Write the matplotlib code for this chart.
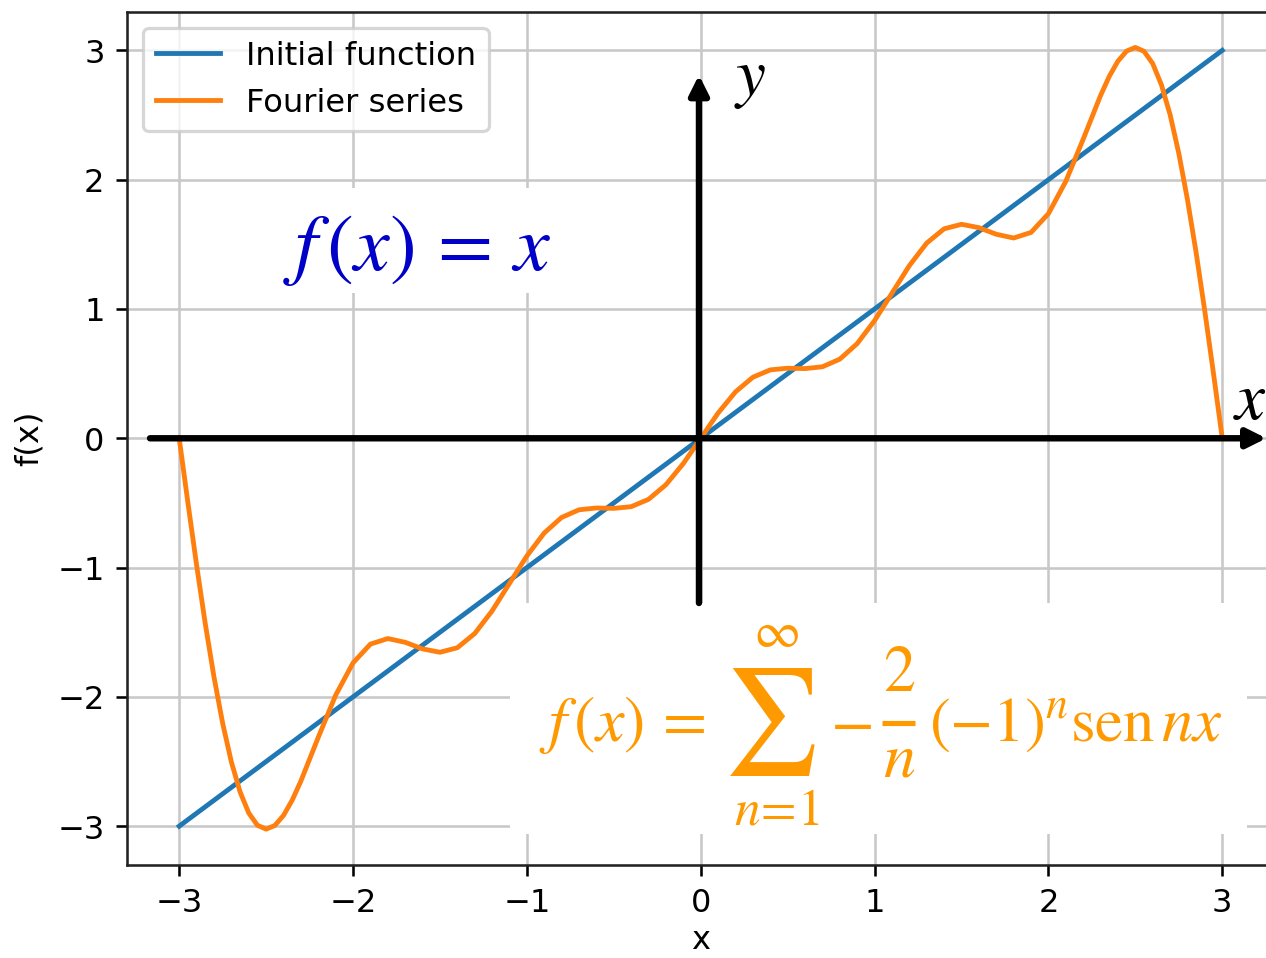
import numpy as np
import matplotlib
matplotlib.use('Agg')
import matplotlib.pyplot as plt
from matplotlib.patches import Rectangle
from matplotlib.lines import Line2D

plt.rcParams['mathtext.fontset'] = 'stix'

# initial function f(x) = x
x_init = [-3.0, 3.0]
y_init = [-3.0, 3.0]

# Fourier series curve
x_four = [-3.0, -2.95, -2.9, -2.85, -2.8, -2.75, -2.7, -2.65, -2.6, -2.55, -2.5,
          -2.45, -2.4, -2.35, -2.3, -2.2, -2.1, -2.0, -1.9, -1.8, -1.7, -1.6,
          -1.5, -1.4, -1.3, -1.2, -1.1, -1.0, -0.9, -0.8, -0.7, -0.6, -0.5,
          -0.4, -0.3, -0.2, -0.1, 0.0, 0.1, 0.2, 0.3, 0.4, 0.5, 0.6, 0.7,
          0.8, 0.9, 1.0, 1.1, 1.2, 1.3, 1.4, 1.5, 1.6, 1.7, 1.8, 1.9, 2.0,
          2.1, 2.2, 2.3, 2.35, 2.4, 2.45, 2.5, 2.55, 2.6, 2.65, 2.7, 2.75,
          2.8, 2.85, 2.9, 2.95, 3.0]
y_four = [0.0, -0.497, -0.980, -1.434, -1.845, -2.204, -2.503, -2.734, -2.898,
          -2.993, -3.023, -2.995, -2.917, -2.799, -2.651, -2.313, -1.987,
          -1.737, -1.592, -1.549, -1.578, -1.629, -1.655, -1.620, -1.510,
          -1.335, -1.122, -0.910, -0.732, -0.612, -0.553, -0.539, -0.542,
          -0.529, -0.472, -0.359, -0.195, 0.0, 0.195, 0.359, 0.472, 0.529,
          0.542, 0.539, 0.553, 0.612, 0.732, 0.910, 1.122, 1.335, 1.510,
          1.620, 1.655, 1.629, 1.578, 1.549, 1.592, 1.737, 1.987, 2.313,
          2.651, 2.799, 2.917, 2.995, 3.023, 2.993, 2.898, 2.734, 2.503,
          2.204, 1.845, 1.434, 0.980, 0.497, 0.0]

W, H = 1266, 958
fig = plt.figure(figsize=((W + 0.4) / 231, (H + 0.4) / 231), dpi=231)
ax = fig.add_axes([127 / W, 93 / H, 1147 / W, 853 / H])

ax.plot(x_init, y_init, label='Initial function')
ax.plot(x_four, y_four, label='Fourier series')
ax.set_xlim(-3.3, 3.3)
ax.set_ylim(-3.3, 3.3)
ax.set_xlabel('x', labelpad=2)
ax.set_ylabel('f(x)')
ax.grid(True, color='#c8c8c8')
for s in ax.spines.values():
    s.set_color('#222222')
ax.legend(loc='upper left')

# white patches pasted over the grid
ax.add_patch(Rectangle((-2.48, 1.12), 1.70, 0.815, facecolor='white',
                       edgecolor='none', zorder=2.5))
ax.add_patch(Rectangle((-1.096, -3.061), 4.24, 1.787, facecolor='white',
                       edgecolor='none', zorder=2.5))

# hand drawn axes
arr = dict(arrowstyle='-|>', color='black', lw=2.0, mutation_scale=12.5,
           shrinkA=0, shrinkB=0)
ax.annotate('', xy=(3.254, 0), xytext=(-3.168, 0), arrowprops=arr, zorder=4)
ax.annotate('', xy=(-0.01, 2.81), xytext=(-0.01, -1.274), arrowprops=arr, zorder=4)
ax.text(0.285, 2.79, r'$y$', fontsize=21, ha='center', va='center', zorder=5)
ax.text(3.162, 0.30, r'$x$', fontsize=21, ha='center', va='center', zorder=5,
        clip_on=False)

ax.text(-1.63, 1.469, r'$f\,(x)\,=\,x$', fontsize=25, color='#0000C8',
        ha='center', va='center', zorder=5)

orange = '#FF9900'


# orange formula, placed piece by piece (pixel positions of the picture)
def put(px, py, s, size, ha='left', va='baseline', **kw):
    fig.text(px / W, 1 - py / H, s, fontsize=size, color=orange,
             ha=ha, va=va, zorder=5, **kw)


put(539, 741, r'$f\,(x)\,=$', 20)
put(772, 722, '\u2211', 33, ha='center', va='center', family='STIXGeneral')
put(776, 633, r'$\infty$', 16, ha='center', va='center')
put(777, 810, r'$n\!=\!1$', 16, ha='center', va='center')
put(851, 723, r'$-$', 20, ha='center', va='center')
# fraction 2/n
fig.add_artist(Line2D([882 / W, 915 / W], [1 - 723 / H, 1 - 723 / H],
                      color=orange, lw=1.6, solid_capstyle='butt'))
put(899, 691, r'$2$', 20, ha='center', va='baseline')
put(899, 776, r'$n$', 20, ha='center', va='baseline')
put(929, 741, r'$(-1)^{n}\mathrm{sen}\,nx$', 19.5)

fig.savefig('out.png', dpi=231)
